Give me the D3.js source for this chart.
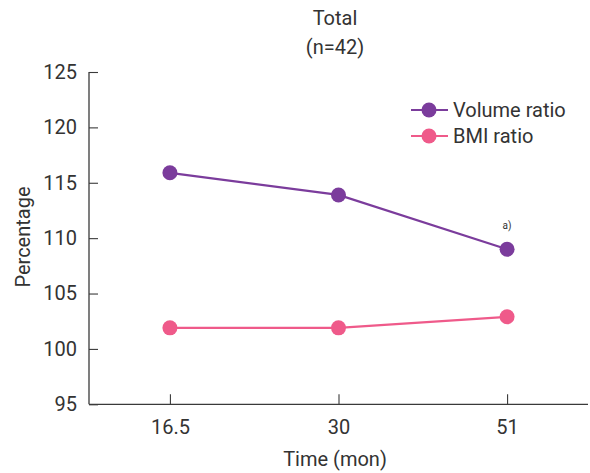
<!DOCTYPE html>
<html><head><meta charset="utf-8">
<script src="https://cdn.jsdelivr.net/npm/d3@7"></script>
<style>body{margin:0;background:#fff}svg{display:block}text{font-family:Roboto,"DejaVu Sans",sans-serif;fill:#333}</style>
</head><body>
<svg id="c" width="590" height="473"></svg>
<script>
const categories = ["16.5", "30", "51"];
const volumeRatio = [115.9, 113.9, 109.0];
const bmiRatio = [101.9, 101.9, 102.9];
const yTicks = [95, 100, 105, 110, 115, 120, 125];
const seriesNames = ["Volume ratio", "BMI ratio"];
const seriesColors = ["#7b3c9c", "#ef5a8a"];

const svg = d3.select("#c");
const x = d3.scalePoint().domain(categories).range([89, 588]).padding(0.48);
const y = d3.scaleLinear().domain([95, 125]).range([404.3, 72]);
const FS = "20px";

const yAxis = svg.append("g").attr("transform", "translate(89,0)")
  .call(d3.axisRight(y).tickValues(yTicks).tickSize(9).tickFormat(d3.format("d")));
yAxis.selectAll("text").attr("x", -12).attr("text-anchor", "end").style("font-size", FS);
const xAxis = svg.append("g").attr("transform", "translate(0,404.3)")
  .call(d3.axisTop(x).tickSize(10));
xAxis.selectAll("text").attr("y", 22.5).attr("dy", "0.35em").style("font-size", FS);
svg.selectAll(".domain").attr("stroke", "#3a3a3a").attr("stroke-width", 1.3);
svg.selectAll(".tick line").attr("stroke", "#3a3a3a").attr("stroke-width", 1.1);
yAxis.select(".domain").attr("d", `M0,${y(125)}V${y(95)}`);
xAxis.select(".domain").attr("d", `M89,0H588`);

const data = [volumeRatio, bmiRatio];
const line = d3.line().x((d,i)=>x(categories[i])).y(d=>y(d));
data.forEach((vals, k) => {
  svg.append("path").datum(vals).attr("d", line).attr("fill","none")
    .attr("stroke", seriesColors[k]).attr("stroke-width", 2.2);
  svg.selectAll(null).data(vals).enter().append("circle")
    .attr("cx",(d,i)=>x(categories[i])).attr("cy",d=>y(d)).attr("r",7.5)
    .attr("fill", seriesColors[k]);
});

svg.append("text").attr("x", x("51")).attr("y", y(volumeRatio[2]) - 23.5)
  .attr("dy","0.35em").attr("text-anchor","middle").style("font-size","10px").text("a)");

// legend
seriesNames.forEach((n,k)=>{
  const ly = 110 + k*26;
  svg.append("line").attr("x1",411).attr("x2",448).attr("y1",ly).attr("y2",ly)
    .attr("stroke",seriesColors[k]).attr("stroke-width",2.2);
  svg.append("circle").attr("cx",429).attr("cy",ly).attr("r",7.5).attr("fill",seriesColors[k]);
  svg.append("text").attr("x",453).attr("y",ly).attr("dy","0.35em").style("font-size",FS).text(n);
});

svg.append("text").attr("x",335).attr("y",18.3).attr("dy","0.35em").attr("text-anchor","middle").style("font-size",FS).text("Total");
svg.append("text").attr("x",335).attr("y",46.7).attr("dy","0.35em").attr("text-anchor","middle").style("font-size",FS).text("(n=42)");
svg.append("text").attr("transform","translate(23,237) rotate(-90)").attr("dy","0.35em").attr("text-anchor","middle").style("font-size",FS).text("Percentage");
svg.append("text").attr("x",335).attr("y",459.3).attr("dy","0.35em").attr("text-anchor","middle").style("font-size",FS).text("Time (mon)");
</script>
</body></html>
